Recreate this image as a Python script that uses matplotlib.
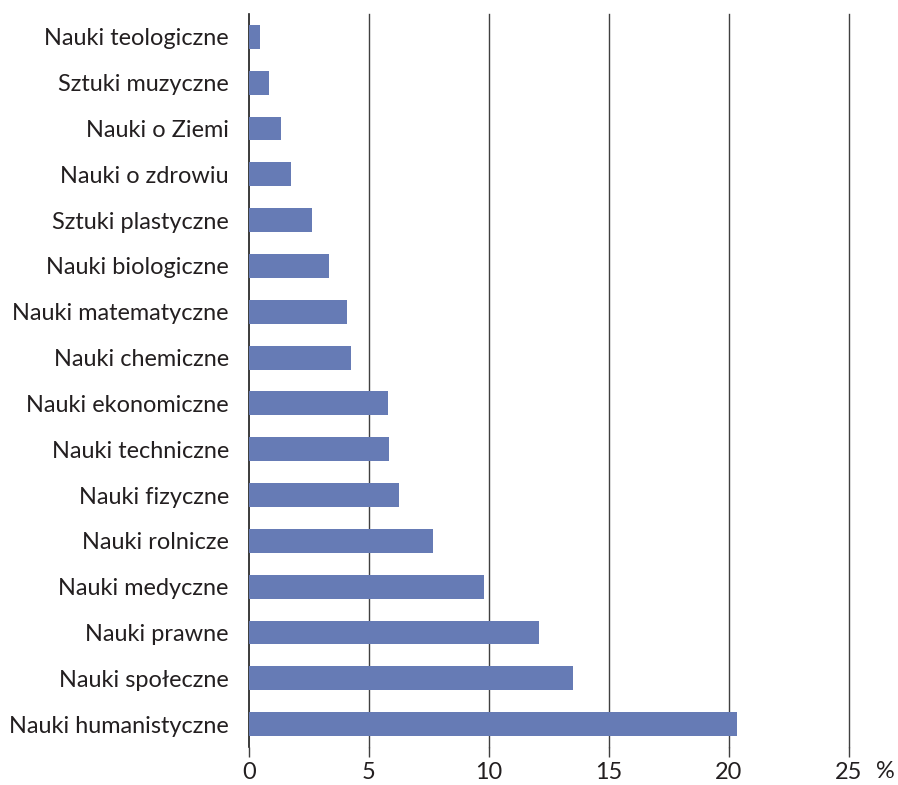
import matplotlib
matplotlib.use("Agg")
import matplotlib.pyplot as plt

categories = [
    "Nauki teologiczne", "Sztuki muzyczne", "Nauki o Ziemi", "Nauki o zdrowiu",
    "Sztuki plastyczne", "Nauki biologiczne", "Nauki matematyczne", "Nauki chemiczne",
    "Nauki ekonomiczne", "Nauki techniczne", "Nauki fizyczne", "Nauki rolnicze",
    "Nauki medyczne", "Nauki prawne", "Nauki społeczne", "Nauki humanistyczne",
]
values = [0.45, 0.82, 1.32, 1.74, 2.63, 3.33, 4.08, 4.25,
          5.79, 5.83, 6.25, 7.68, 9.78, 12.08, 13.5, 20.33]
xticks = [0, 5, 10, 15, 20, 25]

plt.rcParams['font.family'] = ['Lato', 'DejaVu Sans']

W, H = 898, 785
fig = plt.figure(figsize=(W / 100, H / 100), dpi=100)
ax = fig.add_axes([249 / W, 1 - 747 / H, 600 / W, (747 - 14) / H])

bar_color = '#667BB5'
grid_color = '#404040'
text_color = '#231f20'

ypos = list(range(len(categories)))
ax.barh(ypos, values, height=0.52, color=bar_color, zorder=3)
ax.set_ylim(len(categories) - 0.5, -0.5)
ax.set_xlim(0, 25)

for t in xticks[1:]:
    ax.axvline(t, color=grid_color, lw=1.0, zorder=1, clip_on=False)

ax.set_yticks(ypos)
ax.set_yticklabels(categories, fontsize=16.9, color=text_color)
ax.tick_params(axis='y', length=0, pad=14.5)
ax.set_xticks(xticks)
ax.set_xticklabels([str(t) for t in xticks], fontsize=16.9, color=text_color)
ax.tick_params(axis='x', length=7.5, width=1.0, color=grid_color, pad=3.5, direction='out')

for s in ['top', 'right', 'bottom']:
    ax.spines[s].set_visible(False)
ax.spines['left'].set_color('#1a1a1a')
ax.spines['left'].set_linewidth(1.2)

fig.text(885 / W, 1 - 772 / H, "%", fontsize=16.9, color=text_color, ha='center', va='center')

fig.savefig("out.png", dpi=100)
